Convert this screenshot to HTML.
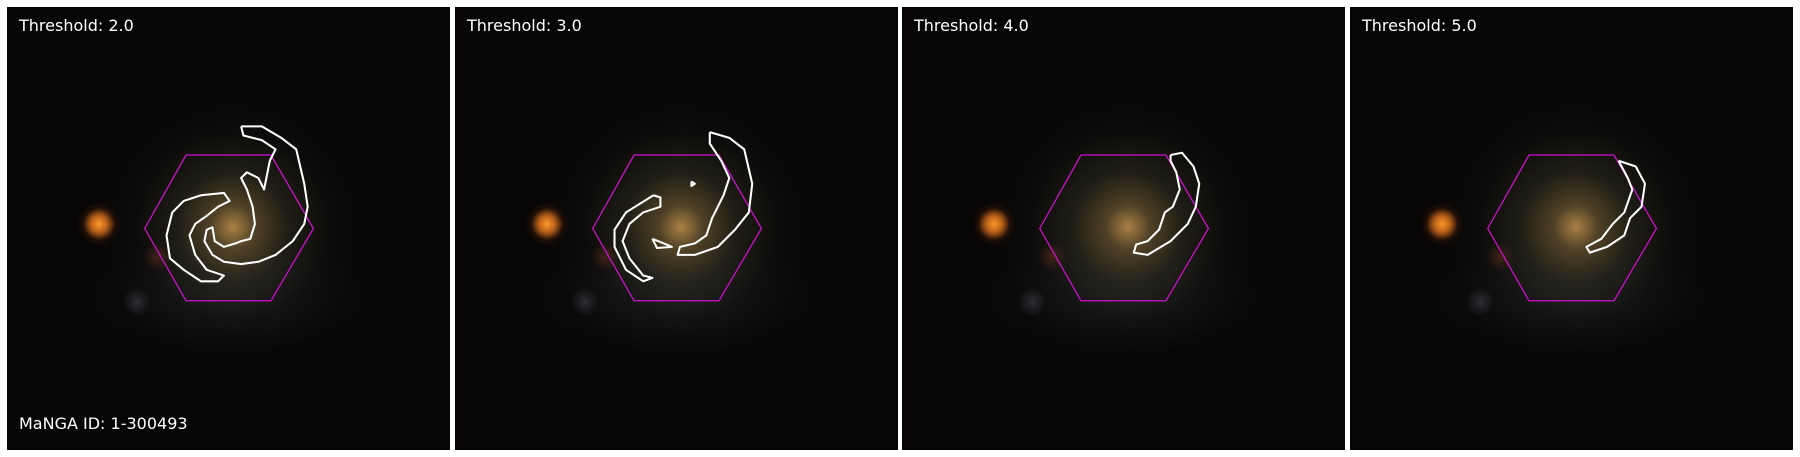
<!DOCTYPE html>
<html><head><meta charset="utf-8">
<style>
html,body{margin:0;padding:0;background:#fff;width:1800px;height:457px;overflow:hidden;font-family:"Liberation Sans","DejaVu Sans",sans-serif}
.panel{position:absolute;top:7px;width:443px;height:443px;background:#050303;overflow:hidden}
.bg{position:absolute;left:0;top:0;width:443px;height:443px}
.lbl{position:absolute;left:12px;color:#fff;font-size:16px;font-family:"DejaVu Sans","Liberation Sans",sans-serif}
svg{position:absolute;left:0;top:0}
</style></head>
<body>
<div id="root"></div>
<script>
const thresholds = ["2.0","3.0","4.0","5.0"];
const panelLefts = [7,455,902,1350];
const mangaId = "1-300493";
const hexagon = [[120,193],[156,129],[230,129],[267,193],[230,256],[156,256]];
const contours = [
 [
  [[204,104],[222,104],[239,114],[252,124],[259,154],[262,174],[259,189],[249,204],[234,216],[219,222],[204,224],[189,222],[179,216],[172,204],[174,194],[179,192],[181,204],[189,209],[199,206],[204,204],[212,202],[216,189],[214,174],[209,159],[204,149],[209,144],[219,149],[224,159],[226,149],[229,134],[234,124],[222,116],[206,112],[204,104]],
  [[169,164],[189,162],[194,169],[184,174],[174,182],[164,189],[159,199],[164,216],[174,229],[189,234],[184,239],[169,239],[154,229],[142,219],[139,199],[144,179],[154,169],[169,164]]
 ],
 [
  [[222,109],[239,114],[252,124],[259,154],[256,179],[244,194],[229,209],[209,216],[194,216],[196,209],[209,206],[219,199],[224,184],[229,174],[234,164],[239,149],[232,134],[222,119],[222,109]],
  [[173,164],[179,166],[179,174],[164,179],[152,189],[146,204],[152,219],[164,234],[172,236],[164,239],[149,229],[139,209],[139,194],[149,179],[173,164]],
  [[172,202],[182,206],[189,209],[176,210],[172,202]],
  [[206,152],[209,154],[206,156],[206,152]]
 ],
 [
  [[234,129],[244,127],[254,139],[259,154],[256,174],[249,189],[234,204],[214,216],[202,214],[204,207],[214,204],[224,194],[229,179],[236,174],[242,159],[239,144],[234,134],[234,129]]
 ],
 [
  [[234,134],[249,139],[257,154],[254,174],[244,184],[239,199],[224,209],[209,214],[206,209],[219,202],[229,189],[239,179],[246,159],[242,149],[234,134]]
 ]
];
const root = document.getElementById('root');
thresholds.forEach((t,i)=>{
  const p = document.createElement('div');
  p.className='panel';
  p.style.left = panelLefts[i]+'px';
  
  
  const bg = document.createElement('div');
  bg.className='bg';
  
  
  bg.style.background = [
    'radial-gradient(circle at 92px 217px, rgba(255,150,40,1) 0px, rgba(230,120,30,0.8) 8px, rgba(120,50,10,0.2) 16px, rgba(0,0,0,0) 22px)',
    'radial-gradient(circle at 226px 220px, rgba(200,150,80,0.85) 0px, rgba(140,115,65,0.55) 22px, rgba(75,75,50,0.35) 55px, rgba(35,42,35,0.18) 95px, rgba(0,0,0,0) 135px)',
    'radial-gradient(circle at 150px 250px, rgba(140,50,25,0.45) 0px, rgba(0,0,0,0) 14px)',
    'radial-gradient(circle at 130px 295px, rgba(90,85,100,0.45) 0px, rgba(0,0,0,0) 14px)',
    'radial-gradient(ellipse 160px 60px at 220px 290px, rgba(40,38,50,0.35) 0px, rgba(0,0,0,0) 100%)',
    '#070505'
  ].join(',');
  p.appendChild(bg);
  const ns='http://www.w3.org/2000/svg';
  const svg=document.createElementNS(ns,'svg');
  svg.setAttribute('width','443');svg.setAttribute('height','443');
  svg.setAttribute('viewBox','0 0 386 386');
  const hex=document.createElementNS(ns,'polygon');
  hex.setAttribute('points',hexagon.map(q=>q.join(',')).join(' '));
  hex.setAttribute('fill','none');hex.setAttribute('stroke','#d010d0');hex.setAttribute('stroke-width','1.1');
  
  
  svg.appendChild(hex);
  contours[i].forEach((c,j)=>{
    const pl=document.createElementNS(ns,'polyline');
    pl.setAttribute('points',c.map(q=>q.join(',')).join(' '));
    pl.setAttribute('fill','none');pl.setAttribute('stroke','#fff');pl.setAttribute('stroke-width','1.8');
    pl.setAttribute('stroke-linejoin','round');
    
    
    svg.appendChild(pl);
  });
  p.appendChild(svg);
  const l=document.createElement('div');
  l.className='lbl';l.style.top='9px';l.textContent='Threshold: '+t;
  
  
  p.appendChild(l);
  if(i===0){
    const m=document.createElement('div');
    m.className='lbl';m.style.top='407px';m.textContent='MaNGA ID: '+mangaId;
    
    
    p.appendChild(m);
  }
  root.appendChild(p);
});
</script>
</body></html>
